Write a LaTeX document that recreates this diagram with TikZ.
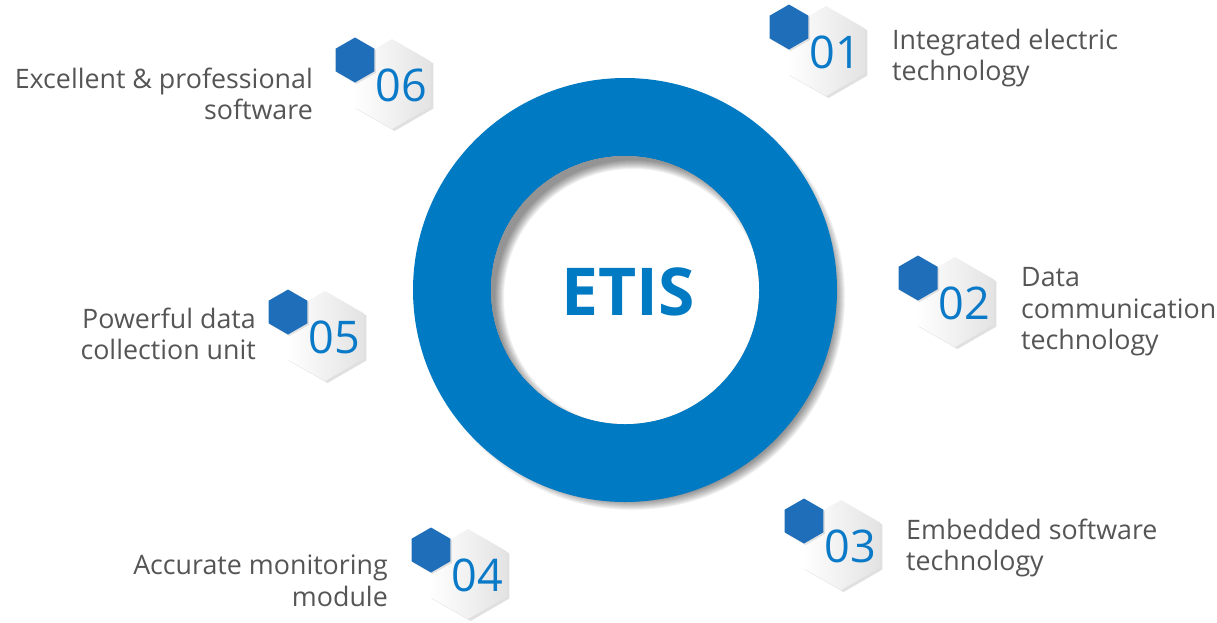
\documentclass[tikz,border=0pt]{standalone}
\usepackage{fontspec}
\setmainfont{Open Sans}
\usepackage{tikz}
\usetikzlibrary{shapes.geometric, shadows, calc}
\definecolor{etisblue}{RGB}{0,122,194}
\definecolor{hexblue}{RGB}{30,110,185}
\definecolor{numblue}{RGB}{10,122,200}
\definecolor{descgray}{RGB}{85,85,85}
\tikzset{
    bighex/.style={regular polygon, regular polygon sides=6, shape border rotate=30,
        minimum size=90pt, inner sep=0pt, left color=white, right color=gray!22,
        drop shadow={shadow xshift=2.5pt, shadow yshift=-2pt, opacity=0.35, fill=gray!70}},
    smallhex/.style={regular polygon, regular polygon sides=6, shape border rotate=30,
        minimum size=45pt, inner sep=0pt, fill=hexblue,
        drop shadow={shadow xshift=1.5pt, shadow yshift=-1.5pt, opacity=0.3, fill=gray!70}},
    num/.style={inner sep=0pt, text=numblue, font=\fontsize{45}{45}\selectfont},
    desc/.style={inner sep=0pt, text=descgray, font=\fontsize{26.8}{31.5}\selectfont},
    descl/.style={desc, anchor=west, align=left},
    descr/.style={desc, anchor=east, align=right},
}
\begin{document}
\begin{tikzpicture}[x=1pt, y=-1pt]
\useasboundingbox (0,0) rectangle (1217,622);
\coordinate (c) at (625,290);
% shadows of the ring
\foreach \k in {0,...,9}
    \fill[black, opacity=0.05] ($(c)+(7,7)$) circle ({204pt+\k pt});
\fill[etisblue, even odd rule] (c) circle (212pt) (c) circle (134pt);
\fill[white] (c) circle (134pt);
\begin{scope}
    \clip (c) circle (134pt);
    \foreach \k in {0,...,9}
        \fill[black, opacity=0.05, even odd rule] (c) circle (300pt) ($(c)+(8,8)$) circle ({138pt-\k pt});
\end{scope}
\node[font=\bfseries\fontsize{66}{66}\selectfont, text=etisblue, inner sep=0pt] (etis) at (628,292) {ETIS};

\node[bighex] (h1) at (826,51) {};
\node[smallhex] (s1) at ($(h1)+(-37,-24)$) {};
\node[num] (n1) at ($(h1)+(9,1)$) {01};
\node[descl] (t1) at (892,58) {Integrated electric\\technology};

\node[bighex] (h2) at (955,302) {};
\node[smallhex] (s2) at ($(h2)+(-37,-24)$) {};
\node[num] (n2) at ($(h2)+(9,1)$) {02};
\node[descl] (t2) at (1021,312) {Data\\communication\\technology};

\node[bighex] (h3) at (841,545) {};
\node[smallhex] (s3) at ($(h3)+(-37,-24)$) {};
\node[num] (n3) at ($(h3)+(9,1)$) {03};
\node[descl] (t3) at (906,548) {Embedded software\\technology};

\node[bighex] (h4) at (468,574) {};
\node[smallhex] (s4) at ($(h4)+(-37,-24)$) {};
\node[num] (n4) at ($(h4)+(9,1)$) {04};
\node[descr] (t4) at (388,581) {Accurate monitoring\\module};

\node[bighex] (h5) at (325,336) {};
\node[smallhex] (s5) at ($(h5)+(-37,-24)$) {};
\node[num] (n5) at ($(h5)+(9,1)$) {05};
\node[descr] (t5) at (256,334) {Powerful data\\collection unit};

\node[bighex] (h6) at (392,84) {};
\node[smallhex] (s6) at ($(h6)+(-37,-24)$) {};
\node[num] (n6) at ($(h6)+(9,1)$) {06};
\node[descr] (t6) at (313,94) {Excellent \& professional\\software};
\end{tikzpicture}
\end{document}
